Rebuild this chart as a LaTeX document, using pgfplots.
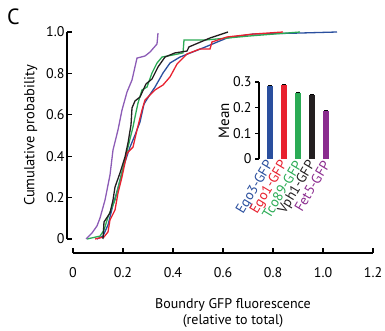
\documentclass[border=0pt]{standalone}
\usepackage{pgfplots}
\pgfplotsset{compat=1.18}
\usepackage{fontspec}
\setmainfont{PT Sans}
\definecolor{cblue}{RGB}{42,79,158}
\definecolor{cred}{RGB}{232,33,47}
\definecolor{cgreen}{RGB}{43,171,85}
\definecolor{cblack}{RGB}{35,31,32}
\definecolor{cpurple}{RGB}{139,44,143}
\definecolor{cpurpleline}{RGB}{140,92,182}
\begin{document}
\begin{tikzpicture}
\begin{axis}[name=main, at={(0,0)}, anchor=south west,
  scale only axis, width=300pt, height=207pt,
  xmin=0, xmax=1.2, ymin=0, ymax=1,
  axis x line*=bottom, axis y line*=left,
  axis x line shift=14pt, axis y line shift=6pt,
  tick align=inside, major tick length=5pt,
  xtick={0,0.2,0.4,0.6,0.8,1.0,1.2},
  xticklabels={0,0.2,0.4,0.6,0.8,1.0,1.2},
  ytick={0,0.2,0.4,0.6,0.8,1.0},
  yticklabels={0,0.2,0.4,0.6,0.8,1.0},
  tick label style={font=\fontsize{14}{16}\selectfont},
  x tick label style={yshift=-11pt},
  y tick label style={xshift=1pt},
  /pgf/number format/assume math mode=true,
  axis line style={line width=1.2pt, black},
  tick style={line width=1.2pt, black},
  xlabel={Boundry GFP fluorescence\\(relative to total)},
  xlabel style={align=center, font=\fontsize{14}{15.5}\selectfont, xshift=10pt, yshift=-14pt},
  ylabel={Cumulative probability},
  ylabel style={font=\fontsize{14.5}{16}\selectfont, yshift=2pt},
  clip=false,
  every axis plot/.append style={line width=1.3pt, no markers},
]
\addplot[cblue] coordinates {
(0.096,0)(0.12,0.014)(0.14,0.068)(0.16,0.164)(0.18,0.246)(0.204,0.357)(0.228,0.444)
(0.248,0.502)(0.268,0.565)(0.284,0.652)(0.304,0.691)(0.328,0.734)(0.36,0.802)
(0.388,0.85)(0.428,0.879)(0.52,0.923)(0.616,0.971)(0.72,0.99)(0.908,0.995)(1.056,1.0)};
\addplot[cgreen] coordinates {
(0.056,0)(0.108,0.014)(0.124,0.043)(0.14,0.106)(0.168,0.188)(0.188,0.285)(0.208,0.382)
(0.22,0.444)(0.24,0.541)(0.248,0.589)(0.26,0.657)(0.276,0.72)(0.296,0.734)(0.316,0.802)
(0.336,0.85)(0.356,0.879)(0.4,0.889)(0.44,0.899)(0.444,0.961)(0.528,0.961)(0.708,0.981)(0.908,1.0)};
\addplot[cred] coordinates {
(0.088,0)(0.124,0.01)(0.14,0.034)(0.148,0.092)(0.168,0.14)(0.18,0.222)(0.196,0.3)
(0.216,0.415)(0.24,0.444)(0.256,0.527)(0.276,0.623)(0.288,0.671)(0.308,0.696)(0.328,0.72)
(0.36,0.744)(0.388,0.783)(0.416,0.845)(0.456,0.894)(0.508,0.918)(0.548,0.918)(0.556,0.952)
(0.616,0.976)(0.72,0.99)(0.84,1.0)};
\addplot[cblack] coordinates {
(0.12,0)(0.124,0.082)(0.148,0.126)(0.16,0.188)(0.168,0.251)(0.188,0.319)(0.208,0.396)
(0.22,0.464)(0.232,0.551)(0.236,0.633)(0.248,0.667)(0.268,0.686)(0.292,0.749)(0.316,0.773)
(0.34,0.831)(0.368,0.879)(0.408,0.899)(0.456,0.908)(0.464,0.928)(0.548,0.971)(0.62,1.0)};
\addplot[cpurpleline] coordinates {
(0.052,0)(0.076,0.029)(0.096,0.063)(0.108,0.101)(0.128,0.188)(0.148,0.309)(0.16,0.43)
(0.18,0.527)(0.196,0.623)(0.216,0.71)(0.236,0.768)(0.256,0.874)(0.288,0.884)(0.308,0.903)
(0.336,0.942)(0.34,0.995)};
\node[font=\fontsize{22}{24}\selectfont, anchor=base west, inner sep=0pt] at (rel axis cs:-0.22,1.034) {C};
\end{axis}
\begin{axis}[at={(186pt,80pt)}, anchor=south west,
  scale only axis, width=74pt, height=77pt,
  xmin=-0.79, xmax=4.5, ymin=0, ymax=0.3,
  axis x line*=bottom, axis y line*=left,
  x axis line style={draw=none},
  y axis line style={line width=1.2pt, black},
  ytick={0,0.1,0.2,0.3}, yticklabels={0,0.1,0.2,0.3},
  tick align=outside, major tick length=4pt,
  ytick style={line width=1.2pt, black},
  xtick={0,1,2,3,4}, major x tick style={draw=none},
  xticklabels={\textcolor{cblue}{Ego3-GFP},\textcolor{cred}{Ego1-GFP},\textcolor{cgreen}{Tco89-GFP},\textcolor{cblack}{Vph1-GFP},\textcolor{cpurple}{Fet5-GFP}},
  x tick label style={rotate=59, anchor=east, font=\fontsize{14}{15}\selectfont, inner sep=1pt, xshift=2pt},
  y tick label style={font=\fontsize{14}{15}\selectfont},
  /pgf/number format/assume math mode=true,
  ylabel={Mean}, ylabel style={font=\fontsize{15}{16}\selectfont, yshift=-3pt},
  clip=false,
]
\addplot[ybar, bar width=6.5pt, fill=cblue, draw=none,
  error bars/.cd, y dir=plus, y explicit, error bar style={black, line width=0.8pt}, error mark options={black, rotate=90, mark size=2pt}]
  coordinates {(0,0.285) +- (0,0.003)};
\addplot[ybar, bar width=6.5pt, fill=cred, draw=none,
  error bars/.cd, y dir=plus, y explicit, error bar style={black, line width=0.8pt}, error mark options={black, rotate=90, mark size=2pt}]
  coordinates {(1,0.289) +- (0,0.003)};
\addplot[ybar, bar width=6.5pt, fill=cgreen, draw=none,
  error bars/.cd, y dir=plus, y explicit, error bar style={black, line width=0.8pt}, error mark options={black, rotate=90, mark size=2pt}]
  coordinates {(2,0.259) +- (0,0.003)};
\addplot[ybar, bar width=6.5pt, fill=cblack, draw=none,
  error bars/.cd, y dir=plus, y explicit, error bar style={black, line width=0.8pt}, error mark options={black, rotate=90, mark size=2pt}]
  coordinates {(3,0.250) +- (0,0.003)};
\addplot[ybar, bar width=6.5pt, fill=cpurple, draw=none,
  error bars/.cd, y dir=plus, y explicit, error bar style={black, line width=0.8pt}, error mark options={black, rotate=90, mark size=2pt}]
  coordinates {(4,0.187) +- (0,0.003)};
\end{axis}
\pgfresetboundingbox
\useasboundingbox (-73pt,-92pt) rectangle (312pt,239pt);
\end{tikzpicture}
\end{document}
